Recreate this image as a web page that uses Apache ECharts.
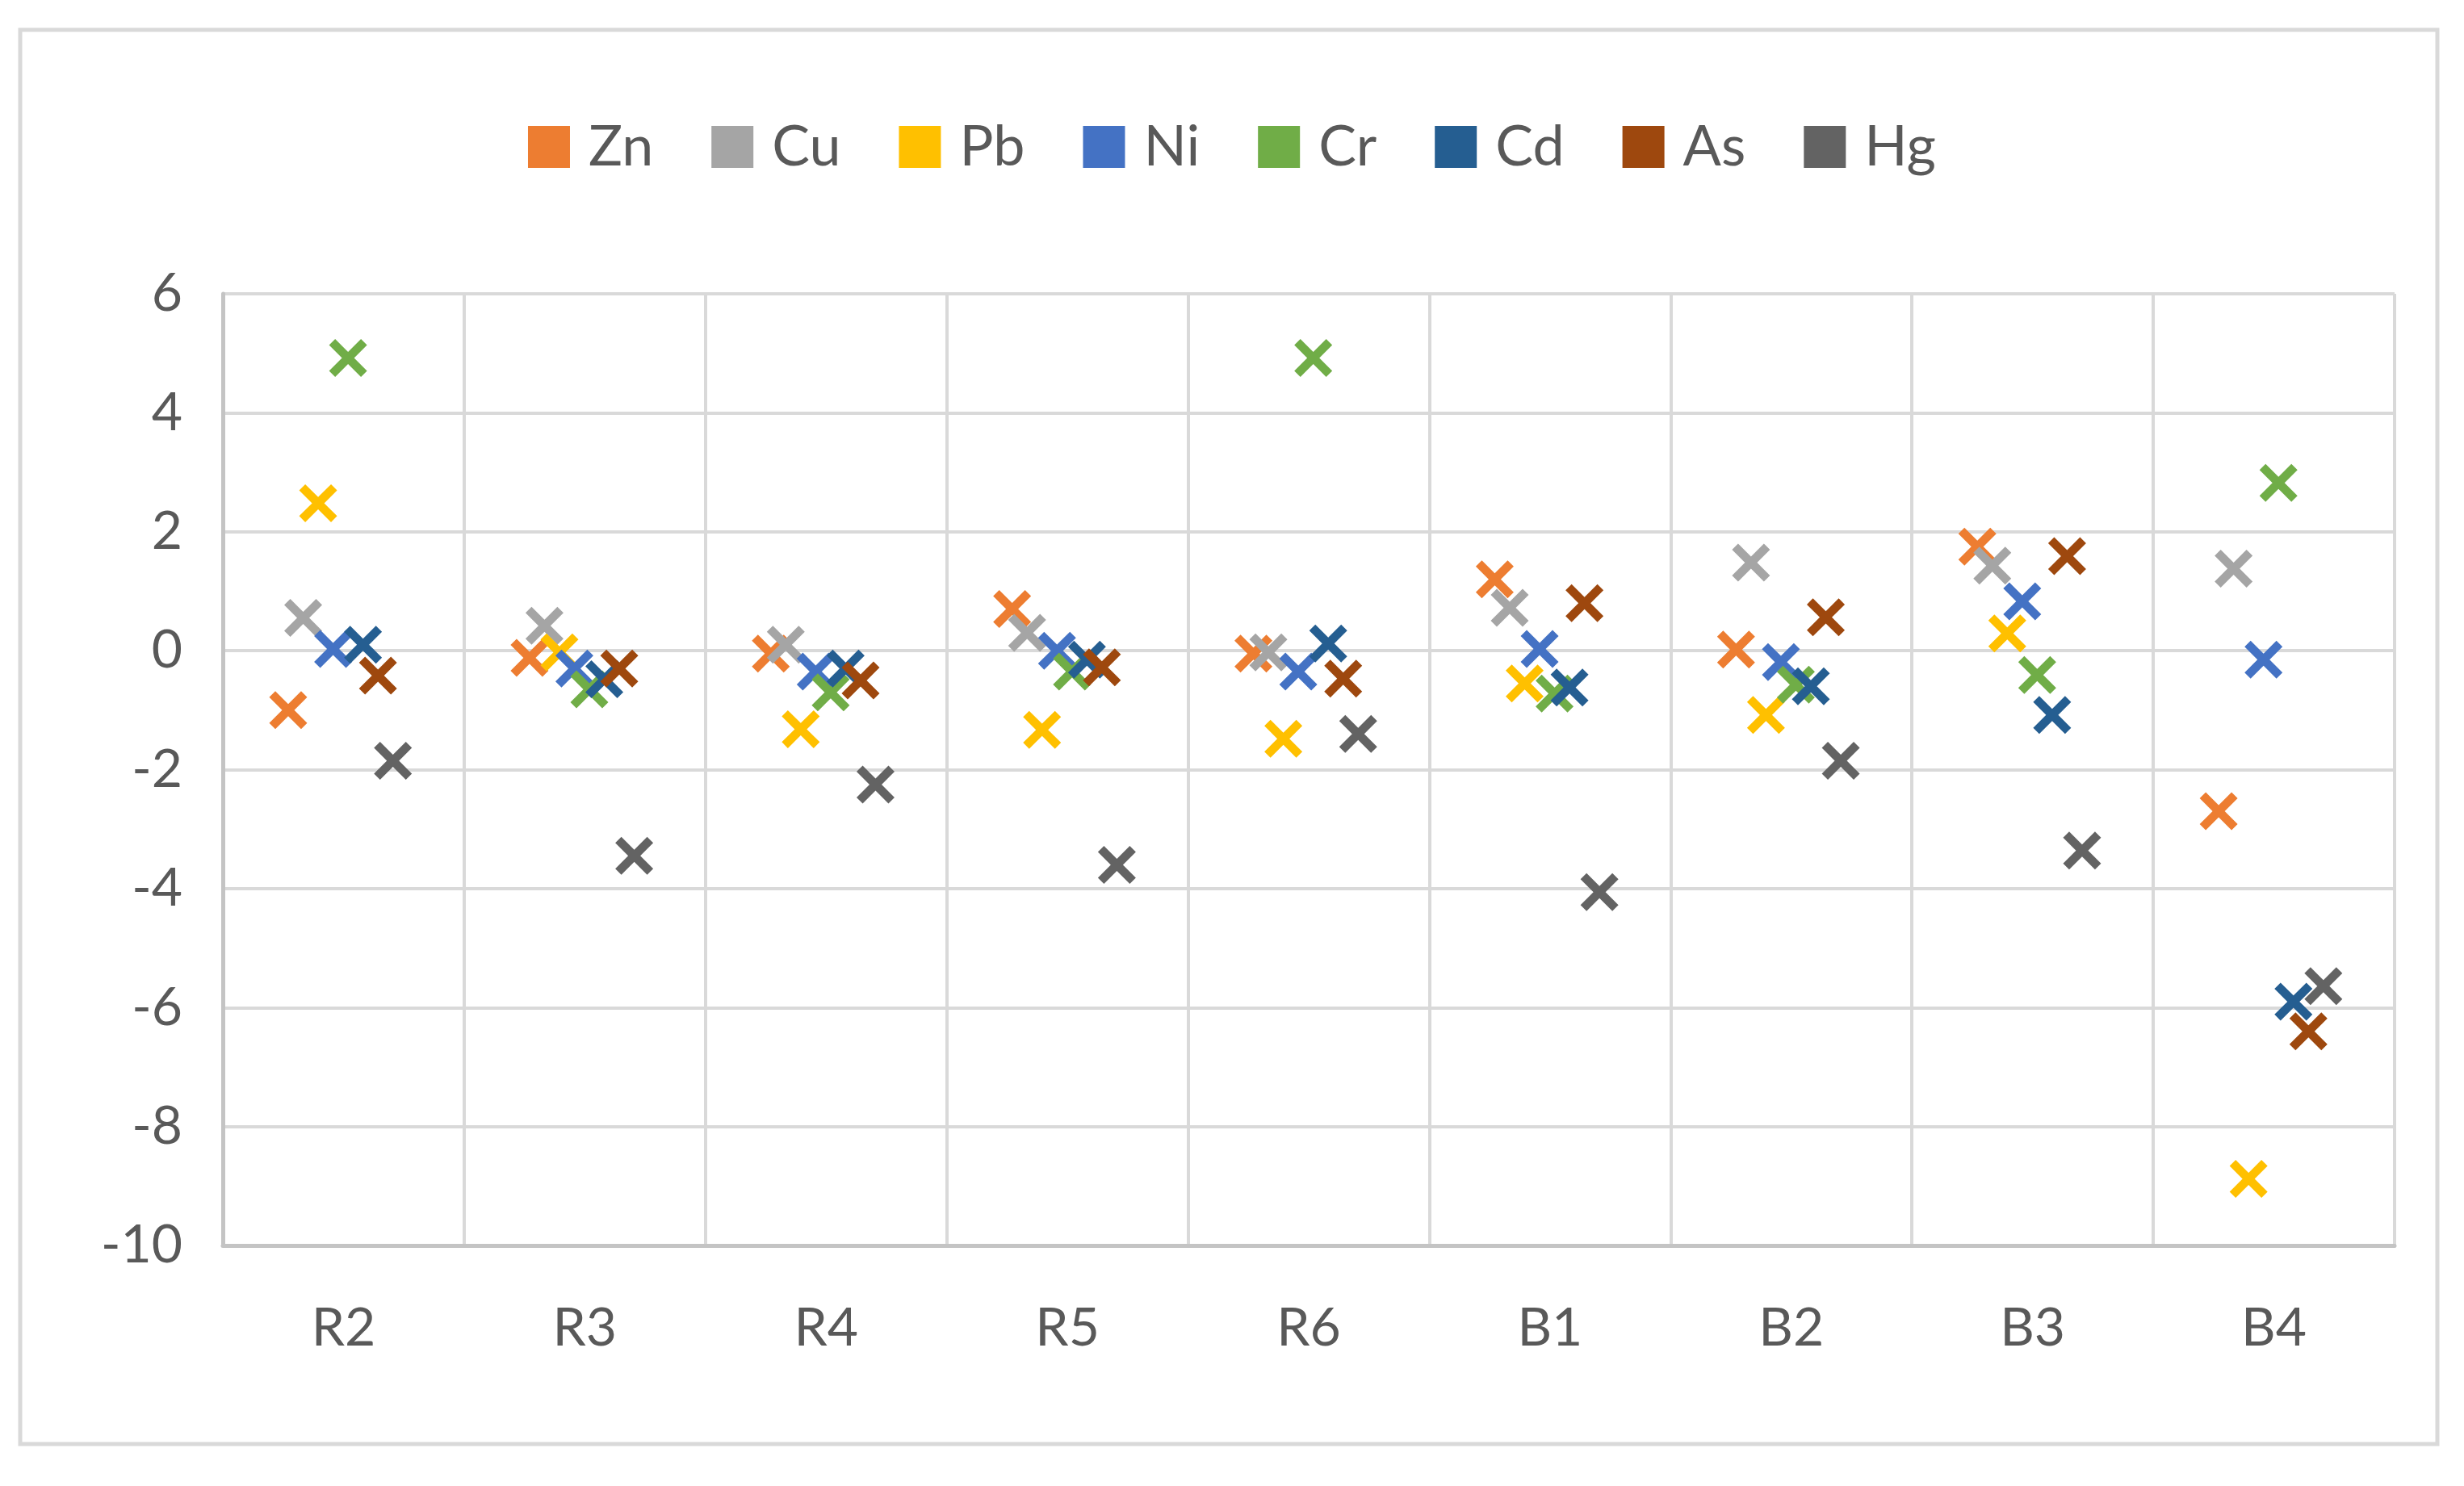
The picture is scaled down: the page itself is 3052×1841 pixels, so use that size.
<!DOCTYPE html>
<html>
<head>
<meta charset="utf-8">
<script src="https://cdn.jsdelivr.net/npm/echarts@6/dist/echarts.min.js"></script>
<style>
html,body{margin:0;padding:0;background:#fff;}
#chart{width:3052px;height:1841px;}
</style>
</head>
<body>
<div id="chart"></div>
<script>
const categories = ['R2','R3','R4','R5','R6','B1','B2','B3','B4'];
const seriesNames = ['Zn','Cu','Pb','Ni','Cr','Cd','As','Hg'];
const yTicks = [-10,-8,-6,-4,-2,0,2,4,6];

const Zn = [-1.0, -0.12, -0.05, 0.7, -0.05, 1.2, 0.02, 1.75, -2.7];
const Cu = [0.55, 0.42, 0.1, 0.3, -0.03, 0.72, 1.48, 1.43, 1.38];
const Pb = [2.48, -0.03, -1.32, -1.33, -1.48, -0.55, -1.08, 0.29, -8.88];
const Ni = [0.03, -0.3, -0.35, 0.0, -0.35, 0.03, -0.19, 0.83, -0.15];
const Cr = [4.92, -0.65, -0.7, -0.35, 4.92, -0.72, -0.57, -0.41, 2.82];
const Cd = [0.1, -0.48, -0.3, -0.15, 0.12, -0.62, -0.6, -1.08, -5.9];
const As = [-0.42, -0.3, -0.5, -0.28, -0.47, 0.8, 0.56, 1.59, -6.4];
const Hg = [-1.85, -3.45, -2.25, -3.6, -1.4, -4.06, -1.85, -3.36, -5.64];

const seriesValues = [Zn, Cu, Pb, Ni, Cr, Cd, As, Hg];
const colors = ['#ED7D31','#A5A5A5','#FFC000','#4472C4','#70AD47','#255E91','#9E480E','#636363'];

const xMarker = 'path://M0,16 L16,0 L50,34 L84,0 L100,16 L66,50 L100,84 L84,100 L50,66 L16,100 L0,84 L34,50 Z';
const FONT = 'Lato, "Noto Sans", sans-serif';

const chart = echarts.init(document.getElementById('chart'), null, {renderer:'canvas'});

const series = seriesNames.map((name, s) => ({
  name: name,
  type: 'scatter',
  xAxisIndex: 0,
  yAxisIndex: 0,
  symbol: xMarker,
  symbolSize: 47,
  itemStyle: {color: colors[s], opacity: 1},
  emphasis: {disabled: true},
  data: seriesValues[s].map((v, i) => [i + 0.5 + (s - 3.5) * 0.062 - 0.012, v])
}));

chart.setOption({
  animation: false,
  backgroundColor: '#fff',
  graphic: [{
    type: 'rect',
    shape: {x: 25, y: 37, width: 2994, height: 1752},
    style: {fill: 'none', stroke: '#d9d9d9', lineWidth: 5},
    silent: true
  }],
  legend: {
    data: seriesNames.map((n, s) => ({name: n, icon: 'rect', itemStyle: {color: colors[s], opacity: 1}})),
    top: 142,
    left: 'center',
    itemWidth: 52,
    itemHeight: 52,
    itemGap: 72,
    textStyle: {fontFamily: FONT, fontSize: 70, color: '#595959', padding: [0, 0, 0, 18]}
  },
  grid: {left: 276, right: 86, top: 364, bottom: 298, containLabel: false},
  xAxis: [{
    type: 'value',
    min: 0, max: 9, interval: 1,
    axisLabel: {show: false},
    axisTick: {show: false},
    axisLine: {show: false},
    splitLine: {show: true, lineStyle: {color: '#d9d9d9', width: 4}}
  }, {
    type: 'category',
    data: categories,
    position: 'bottom',
    boundaryGap: true,
    axisTick: {show: false},
    axisLine: {show: true, lineStyle: {color: '#c4c4c4', width: 5}},
    splitLine: {show: false},
    axisLabel: {fontFamily: FONT, fontSize: 66, color: '#595959', margin: 70}
  }],
  yAxis: {
    type: 'value',
    min: -10, max: 6, interval: 2,
    axisLine: {show: true, lineStyle: {color: '#c4c4c4', width: 5}},
    axisTick: {show: false},
    splitLine: {show: true, lineStyle: {color: '#d9d9d9', width: 4}},
    axisLabel: {fontFamily: FONT, fontSize: 66, color: '#595959', margin: 50,
      formatter: v => yTicks.includes(v) ? String(v) : ''}
  },
  series: series
});
</script>
</body>
</html>
